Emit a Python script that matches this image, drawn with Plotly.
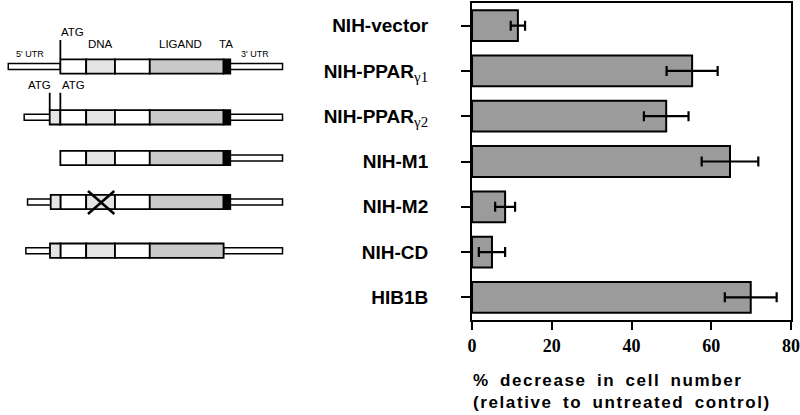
import plotly.graph_objects as go

# ---- data ----
categories = ["NIH-vector", "NIH-PPARγ1", "NIH-PPARγ2", "NIH-M1", "NIH-M2", "NIH-CD", "HIB1B"]
SUB = "<sub><span style='font-family:Liberation Serif;font-weight:normal;font-size:15px'>{}</span></sub>"
tick_labels = [
    "NIH-vector",
    "NIH-PPAR" + SUB.format("γ1"),
    "NIH-PPAR" + SUB.format("γ2"),
    "NIH-M1", "NIH-M2", "NIH-CD", "HIB1B",
]
decrease_pct = [11.5, 55.2, 48.7, 64.7, 8.3, 5.0, 69.9]
error_pct = [1.8, 6.4, 5.6, 7.1, 2.5, 3.3, 6.5]
x_ticks = [0, 20, 40, 60, 80]

# ---- construct diagram (pixel-like coordinates of the left panel) ----
WHITE, LIGHT, GREY, BLACK = "#ffffff", "#e4e4e4", "#c9c9c9", "#000000"
row_y = [66.5, 117.3, 158.0, 202.0, 250.7]
left_utr = [(3.3, 55.7), (19.3, 45.0), None, (22.7, 46.0), (21.0, 45.3)]
core = [(81.7, 110.7, LIGHT), (110.7, 145.7, WHITE)]
segments = [
    [(55.7, 81.7, WHITE)] + core + [(145.7, 220.0, GREY), (220.0, 226.7, BLACK)],
    [(45.0, 55.7, LIGHT), (55.7, 81.7, WHITE)] + core + [(145.7, 220.0, GREY), (220.0, 226.7, BLACK)],
    [(55.7, 81.7, WHITE)] + core + [(145.7, 220.0, GREY), (220.0, 226.7, BLACK)],
    [(46.0, 56.0, LIGHT), (56.0, 81.7, WHITE)] + core + [(145.7, 220.0, GREY), (220.0, 226.7, BLACK)],
    [(45.3, 56.0, LIGHT), (56.0, 81.7, WHITE)] + core + [(145.7, 220.0, GREY)],
]
right_utr = [(226.7, 279.3)] * 4 + [(220.0, 279.3)]
BOX_H, UTR_H = 7.2, 3.0

fig = go.Figure()
fig.add_trace(go.Bar(
    x=decrease_pct, y=categories, orientation="h",
    marker=dict(color="#9b9b9b", line=dict(color="black", width=2)),
    width=0.68,
    error_x=dict(type="data", array=error_pct, color="black", thickness=2.2, width=5),
    showlegend=False,
))
# dummy trace to anchor the diagram axes
fig.add_trace(go.Scatter(x=[0], y=[0], xaxis="x2", yaxis="y2", mode="markers",
                         marker=dict(opacity=0), showlegend=False, hoverinfo="skip"))

shapes = []
def rect(x0, x1, y0, y1, fill, lw=1.8):
    shapes.append(dict(type="rect", xref="x2", yref="y2", x0=x0, x1=x1, y0=y0, y1=y1,
                       fillcolor=fill, line=dict(color="black", width=lw), layer="above"))

for i, yc in enumerate(row_y):
    if left_utr[i]:
        rect(left_utr[i][0], left_utr[i][1], yc - UTR_H, yc + UTR_H, WHITE, 1.5)
    rect(right_utr[i][0], right_utr[i][1], yc - UTR_H, yc + UTR_H, WHITE, 1.5)
    for (a, b, c) in segments[i]:
        rect(a, b, yc - BOX_H, yc + BOX_H, c, 1.8)

def line(x0, y0, x1, y1, w=1.8):
    shapes.append(dict(type="line", xref="x2", yref="y2", x0=x0, y0=y0, x1=x1, y1=y1,
                       line=dict(color="black", width=w), layer="above"))

# ATG marks
line(55.7, 40.0, 55.7, row_y[0] - BOX_H)
line(45.0, 92.7, 45.0, row_y[1] - BOX_H)
line(55.7, 92.7, 55.7, row_y[1] - BOX_H)
# X over DNA domain in M2
line(83.5, 191.0, 110.0, 214.0, 2.5)
line(83.5, 214.0, 110.0, 191.0, 2.5)

annotations = []
def label(text, x, y, size=11.5):
    annotations.append(dict(text=text, xref="x2", yref="y2", x=x, y=y, showarrow=False,
                            font=dict(family="Liberation Sans, Arial", size=size, color="black"),
                            xanchor="center", yanchor="middle"))
label("ATG", 68, 32)
label("DNA", 96, 44)
label("LIGAND", 177, 44)
label("TA", 222, 44)
label("5' UTR", 25, 54, 9)
label("3' UTR", 252, 54, 9)
label("ATG", 35, 85)
label("ATG", 69, 85)

SP = "<span style='letter-spacing:1.6px;word-spacing:4px'>{}</span>"
annotations.append(dict(
    text="<b>" + SP.format("% decrease in cell number") + "<br>"
         + SP.format("(relative to untreated control)") + "</b>",
    xref="paper", yref="paper", x=469 / 791, y=-0.155, xanchor="left", yanchor="top",
    align="left", showarrow=False,
    font=dict(family="Liberation Sans, Arial", size=17, color="black"),
))

fig.update_layout(
    width=800, height=415,
    margin=dict(l=0, r=9, t=3, b=95),
    plot_bgcolor="white", paper_bgcolor="white",
    shapes=shapes, annotations=annotations,
    xaxis=dict(domain=[470 / 791, 1], range=[0, 80], tickvals=x_ticks,
               showgrid=False, zeroline=False, showline=True, linecolor="black", linewidth=2,
               mirror=True, ticks="outside", ticklen=8, tickwidth=2, tickcolor="black",
               ticklabeloverflow="allow",
               tickfont=dict(family="Liberation Serif, Times New Roman", size=18, color="black",
                             weight="bold")),
    yaxis=dict(categoryorder="array", categoryarray=categories, range=[6.5, -0.5],
               tickvals=categories, ticktext=tick_labels,
               showgrid=False, zeroline=False, showline=True, linecolor="black", linewidth=2,
               mirror=True, ticks="outside", ticklen=9, tickwidth=1.5, tickcolor="black",
               ticklabelstandoff=29,
               tickfont=dict(family="Liberation Sans, Arial", size=19, color="black",
                             weight="bold")),
    xaxis2=dict(domain=[0, 290 / 791], range=[0, 290], visible=False, anchor="y2"),
    yaxis2=dict(domain=[0, 1], range=[320, 3], visible=False, anchor="x2"),
)

fig.write_html("out.html", config={"displayModeBar": False},
               post_script="document.body.style.margin='0';document.body.style.overflow='hidden';")
